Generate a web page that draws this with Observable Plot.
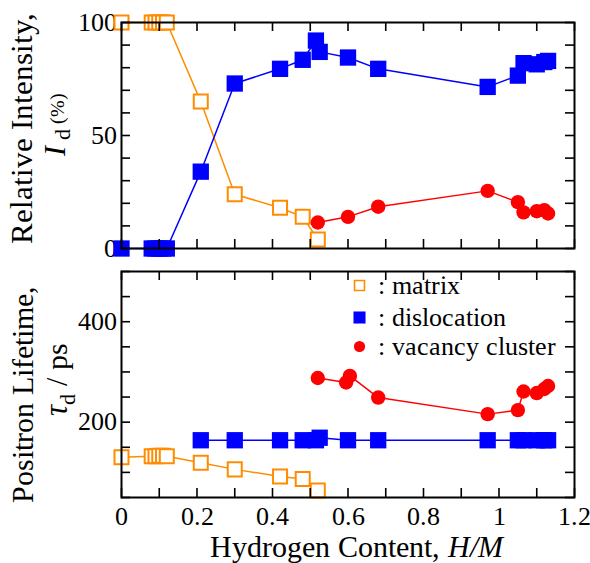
<!DOCTYPE html>
<html>
<head>
<meta charset="utf-8">
<script src="https://cdn.jsdelivr.net/npm/d3@7"></script>
<script src="https://cdn.jsdelivr.net/npm/@observablehq/plot@0.6"></script>
<style>
  @font-face {
    font-family: "ChartSerif";
    src: local("Liberation Serif"), local("LiberationSerif"), local("LiberationSerif-Regular"),
         local("DejaVu Serif"), local("DejaVuSerif"), local("Times New Roman");
    font-style: normal;
  }
  @font-face {
    font-family: "ChartSerif";
    src: local("Liberation Serif Italic"), local("LiberationSerif-Italic"),
         local("DejaVu Serif Italic"), local("DejaVuSerif-Italic"), local("Times New Roman Italic");
    font-style: italic;
  }
  body { margin: 0; background: #fff; }
  #chart { width: 590px; height: 563px; }
  #chart svg { display: block; }
  #chart svg, #chart svg text, #chart svg tspan {
    font-family: "ChartSerif", "Liberation Serif", "DejaVu Serif", serif;
  }
</style>
</head>
<body>
<div id="chart"></div>
<script>
// Hydrogen content H/M of each sample, per component
const matrixH   = [0, 0.08, 0.09, 0.10, 0.11, 0.12, 0.21, 0.30, 0.42, 0.48, 0.52];
const dislocH   = [0, 0.08, 0.09, 0.10, 0.11, 0.12, 0.21, 0.30, 0.42, 0.48, 0.515, 0.525, 0.60, 0.68, 0.97, 1.05, 1.065, 1.10, 1.12, 1.13];
const vacancyH  = [0.52, 0.60, 0.68, 0.97, 1.05, 1.065, 1.10, 1.12, 1.13];

// Relative intensity I_d (%)
const matrixI   = [100, 100, 100, 100, 100, 100, 65, 24, 18, 14, 4];
const dislocI   = [0, 0, 0, 0, 0, 0, 34, 73, 79.5, 83.5, 92, 87, 84.5, 79.5, 71.5, 76.5, 82, 81.5, 82.5, 83];
const vacancyI  = [11.5, 14, 18.5, 25.5, 20.5, 16, 16.5, 17, 15.5];

// Positron lifetime tau_d (ps)
const matrixTauH  = [0, 0.08, 0.09, 0.10, 0.11, 0.12, 0.21, 0.30, 0.42, 0.48, 0.52];
const matrixTau   = [130, 132, 132, 133, 133, 132, 119, 106, 92, 87, 64];
const dislocTauH  = [0.21, 0.30, 0.42, 0.48, 0.515, 0.525, 0.60, 0.68, 0.97, 1.05, 1.065, 1.10, 1.12, 1.13];
const dislocTau   = [164, 164, 164, 164, 164, 169, 164, 164, 164, 164, 164, 164, 164, 164];
const vacancyTauH = [0.52, 0.595, 0.605, 0.68, 0.97, 1.05, 1.065, 1.10, 1.12, 1.13];
const vacancyTau  = [288, 279, 292, 249, 216, 224, 261, 258, 266, 272];

// Axis ticks and labels
const xTicks       = [0, 0.1, 0.2, 0.3, 0.4, 0.5, 0.6, 0.7, 0.8, 0.9, 1.0, 1.1, 1.2];
const xTickLabels  = [0, 0.2, 0.4, 0.6, 0.8, 1, 1.2];
const iTicks       = [0, 10, 20, 30, 40, 50, 60, 70, 80, 90, 100];
const iTickLabels  = [0, 50, 100];
const tauTicks     = [50, 100, 150, 200, 250, 300, 350, 400, 450, 500];
const tauTickLabels = [200, 400];

const legendLabels = [": matrix", ": dislocation", ": vacancy cluster"];

const ORANGE = "#ff8c00", BLUE = "#0000ff", RED = "#ff0000";
const FONT = '"ChartSerif", "Liberation Serif", "DejaVu Serif", serif';
const W = 590, ML = 121, MR = 16, FW = W - ML - MR, TICK = 9;

const rows = (xs, ys) => xs.map((x, i) => ({x, y: ys[i]}));

// inward ticks on all four sides of the frame
function frameTicks(yTicks, frameH) {
  const s = {stroke: "#000", strokeWidth: 1.6};
  return [
    Plot.tickX(xTicks, {x: d => d, insetTop: frameH - TICK, ...s}),
    Plot.tickX(xTicks, {x: d => d, insetBottom: frameH - TICK, ...s}),
    Plot.tickY(yTicks, {y: d => d, insetRight: FW - TICK, ...s}),
    Plot.tickY(yTicks, {y: d => d, insetLeft: FW - TICK, ...s}),
    Plot.frame({stroke: "#000", strokeWidth: 2})
  ];
}

function series(data, color, symbol) {
  const line = Plot.line(data, {x: "x", y: "y", stroke: color, strokeWidth: 1.5});
  let dot;
  if (symbol === "open") dot = Plot.dot(data, {x: "x", y: "y", symbol: "square", r: 7.9, stroke: color, strokeWidth: 2, fill: "#fff"});
  else if (symbol === "square") dot = Plot.dot(data, {x: "x", y: "y", symbol: "square", r: 9.2, fill: color, stroke: null});
  else dot = Plot.dot(data, {x: "x", y: "y", r: 7.2, fill: color, stroke: null});
  return [line, dot];
}

// ---- top panel: relative intensity ----
const topH = 260, topMT = 22, topMB = 12;
const topPlot = Plot.plot({
  width: W, height: topH,
  marginLeft: ML, marginRight: MR, marginTop: topMT, marginBottom: topMB,
  style: {fontFamily: FONT, background: "#fff", color: "#000"},
  x: {domain: [0, 1.2], axis: null},
  y: {domain: [0, 100]},
  marks: [
    Plot.axisY({ticks: iTickLabels, tickSize: 0, tickPadding: 5, fontSize: 26, label: null}),
    ...series(rows(matrixH, matrixI), ORANGE, "open"),
    ...series(rows(dislocH, dislocI), BLUE, "square"),
    ...series(rows(vacancyH, vacancyI), RED, "circle"),
    ...frameTicks(iTicks, topH - topMT - topMB)
  ]
});

// ---- bottom panel: positron lifetime ----
const botH = 303, botMT = 11, botMB = 66;
const legendX = 238, legendTextX = 256, legendY = [14, 46, 75];
const botPlot = Plot.plot({
  width: W, height: botH,
  marginLeft: ML, marginRight: MR, marginTop: botMT, marginBottom: botMB,
  style: {fontFamily: FONT, background: "#fff", color: "#000"},
  x: {domain: [0, 1.2]},
  y: {domain: [50, 500]},
  marks: [
    Plot.axisY({ticks: tauTickLabels, tickSize: 0, tickPadding: 5, fontSize: 26, label: null}),
    Plot.axisX({ticks: xTickLabels, tickSize: 0, tickPadding: 9, fontSize: 26, label: null,
                tickFormat: d => String(+d.toFixed(1))}),
    ...series(rows(matrixTauH, matrixTau), ORANGE, "open"),
    ...series(rows(dislocTauH, dislocTau), BLUE, "square"),
    ...series(rows(vacancyTauH, vacancyTau), RED, "circle"),
    ...frameTicks(tauTicks, botH - botMT - botMB),
    // legend
    Plot.dot([0], {frameAnchor: "top-left", dx: legendX, dy: legendY[0], symbol: "square", r: 5.6, stroke: ORANGE, strokeWidth: 1.6, fill: "#fff"}),
    Plot.dot([0], {frameAnchor: "top-left", dx: legendX, dy: legendY[1], symbol: "square", r: 6.8, fill: BLUE}),
    Plot.dot([0], {frameAnchor: "top-left", dx: legendX, dy: legendY[2], r: 5.6, fill: RED}),
    ...legendLabels.map((t, i) =>
      Plot.text([t], {text: d => d, frameAnchor: "top-left", dx: legendTextX, dy: legendY[i],
                      textAnchor: "start", lineAnchor: "middle", fontSize: 26}))
  ]
});

const root = document.getElementById("chart");
root.append(topPlot, botPlot);

// axis titles with italic symbols and subscripts
function title(svg, x, y, parts, rotate) {
  const t = d3.select(svg).append("text")
    .attr("transform", `translate(${x},${y})` + (rotate ? " rotate(-90)" : ""))
    .attr("text-anchor", "middle")
    .attr("font-family", FONT)
    .attr("fill", "#000");
  for (const p of parts) {
    const s = t.append("tspan").text(p.text).attr("font-size", p.size);
    if (p.italic) s.attr("font-style", "italic");
    if (p.dy) s.attr("dy", p.dy);
  }
}

title(topPlot, 32, 128, [{text: "Relative Intensity,", size: 31}], true);
title(topPlot, 65, 124, [
  {text: "I", size: 30, italic: true},
  {text: " d", size: 22, dy: 5},
  {text: " (%)", size: 20, dy: -6}
], true);

title(botPlot, 33, 134, [{text: "Positron Lifetime,", size: 30}], true);
title(botPlot, 67, 119, [
  {text: "τ", size: 31, italic: true},
  {text: "d", size: 22, dy: 8},
  {text: " / ps", size: 30, dy: -8}
], true);

title(botPlot, 356, 297, [
  {text: "Hydrogen Content, ", size: 30},
  {text: "H/M", size: 30, italic: true}
], false);
</script>
</body>
</html>
